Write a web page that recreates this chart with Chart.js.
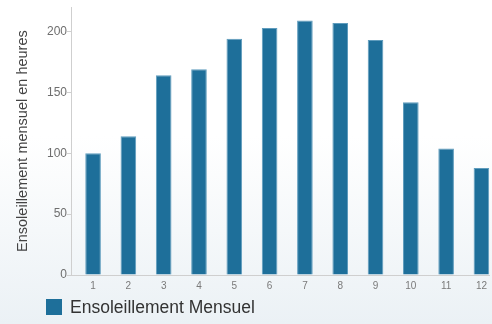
<!DOCTYPE html>
<html>
<head>
<meta charset="utf-8">
<script src="https://cdn.jsdelivr.net/npm/chart.js@4/dist/chart.umd.min.js"></script>
<style>
  html, body { margin: 0; padding: 0; width: 492px; height: 324px; overflow: hidden; }
  body {
    background: linear-gradient(to bottom, #ffffff 0%, #ffffff 42%, #ebf1f5 100%);
    font-family: "Liberation Sans", Arial, sans-serif;
    position: relative;
  }
  #wrap { position: absolute; left: 0; top: 0; width: 492px; height: 324px; }
  #legend {
    position: absolute; left: 46px; top: 297px; height: 20px;
    display: flex; align-items: center; color: #333; font-size: 17.5px;
  }
  #legend .box { width: 16px; height: 16px; margin-right: 8px; }
</style>
</head>
<body>
<div id="wrap"><canvas id="chart" width="492" height="324"></canvas></div>
<div id="legend"></div>
<script>
// Monthly sunshine hours, one value per month
const months = [1, 2, 3, 4, 5, 6, 7, 8, 9, 10, 11, 12];
const sunHours = [100, 114, 164, 169, 194, 203, 209, 207, 193, 142, 104, 88];
const yTicks = [0, 50, 100, 150, 200];
const seriesLabel = 'Ensoleillement Mensuel';
const yTitle = 'Ensoleillement mensuel en heures';

const barColor = '#1e6f9a';

const chart = new Chart(document.getElementById('chart'), {
  type: 'bar',
  data: {
    datasets: [{
      label: seriesLabel,
      data: months.map((m, i) => ({ x: m, y: sunHours[i] })),
      backgroundColor: barColor,
      borderColor: '#5f9cbd',
      borderWidth: 1,
      categoryPercentage: 0.8,
      barPercentage: 0.553
    }]
  },
  options: {
    responsive: false,
    animation: false,
    layout: { padding: { top: 5, right: 0, bottom: 27, left: 0 } },
    plugins: { legend: { display: false }, tooltip: { enabled: false } },
    scales: {
      x: {
        type: 'linear',
        offset: false,
        min: 0.375,
        max: 12.235,
        afterBuildTicks: s => { s.ticks = months.map(v => ({ value: v })); },
        grid: { display: false, drawTicks: false },
        border: { color: '#cfcfcf', width: 1 },
        ticks: {
          padding: 5,
          color: '#7a7a7a',
          font: { family: 'Liberation Sans', size: 10 },
          maxRotation: 0,
          autoSkip: false
        }
      },
      y: {
        min: 0,
        max: 220,
        afterBuildTicks: s => { s.ticks = yTicks.map(v => ({ value: v })); },
        afterFit: s => { s.width = 71; },
        grid: { drawOnChartArea: false, drawTicks: true, tickLength: 4, color: '#cfcfcf' },
        border: { color: '#cfcfcf', width: 1 },
        ticks: {
          padding: 0,
          color: '#6e6e6e',
          font: { family: 'Liberation Sans', size: 12 }
        },
        title: {
          display: true,
          text: yTitle,
          color: '#444',
          padding: { top: 14, bottom: 0 },
          font: { family: 'Liberation Sans', size: 14.5 }
        }
      }
    }
  }
});

// Legend built from the dataset
const ds = chart.data.datasets[0];
const legend = document.getElementById('legend');
const box = document.createElement('span');
box.className = 'box';
box.style.background = ds.backgroundColor;
const txt = document.createElement('span');
txt.textContent = ds.label;
legend.appendChild(box);
legend.appendChild(txt);
</script>
</body>
</html>
